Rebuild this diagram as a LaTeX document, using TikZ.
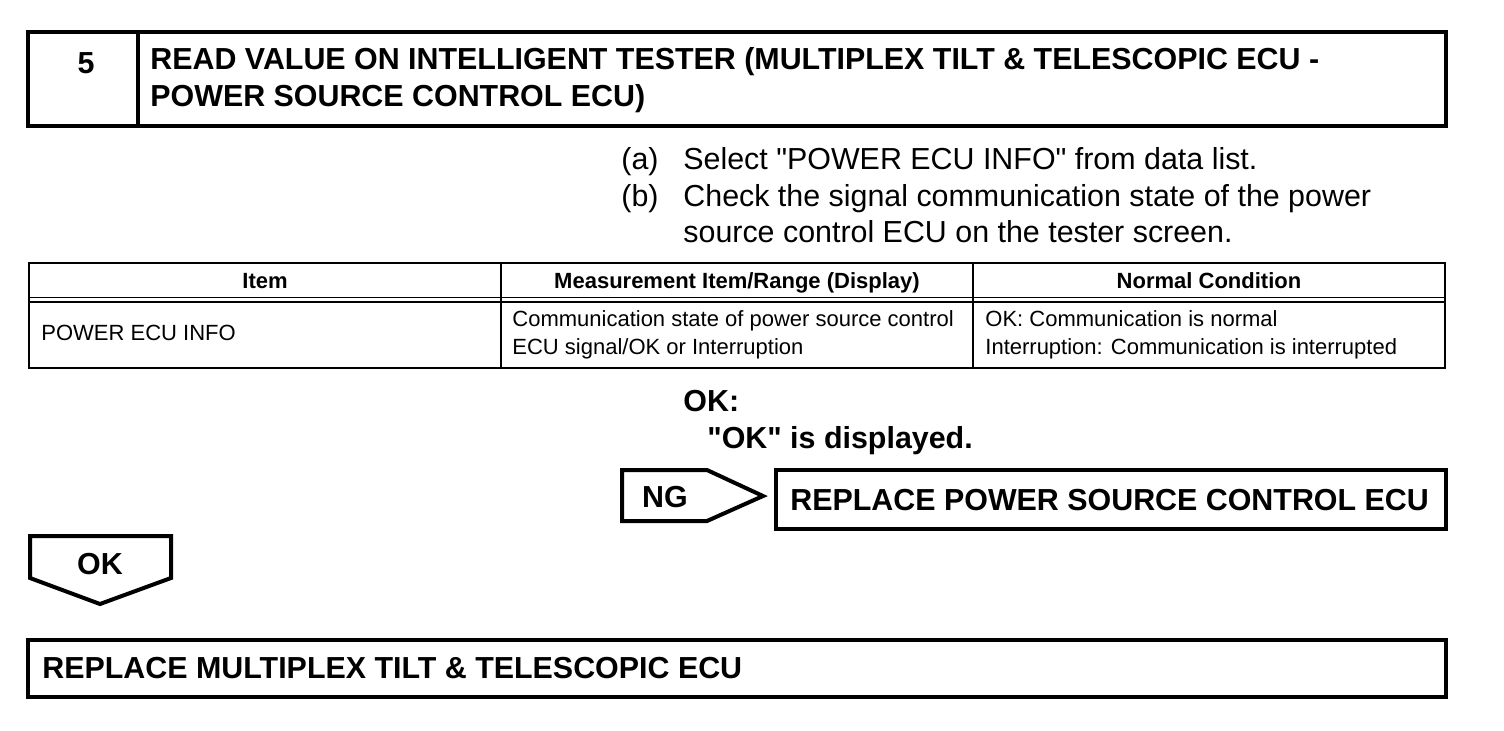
\documentclass[tikz,border=0pt]{standalone}
\usepackage{fontspec}
\setmainfont{Liberation Sans}[Ligatures=TeXOff]
\begin{document}
\begin{tikzpicture}[x=0.5pt,y=-0.5pt,
  heavy/.style={line width=2pt},
  rule/.style={line width=1pt},
  bigr/.style={font=\fontsize{15.2}{18}\selectfont,inner sep=0pt,anchor=base west},
  bigb/.style={font=\fontsize{15.2}{18}\selectfont\bfseries,inner sep=0pt,anchor=base west},
  smr/.style={font=\fontsize{11}{13}\selectfont,inner sep=0pt,anchor=base west},
  smb/.style={font=\fontsize{11}{13}\selectfont\bfseries,inner sep=0pt,anchor=base}]
\useasboundingbox (0,0) rectangle (1504,730);
% title box
\draw[heavy] (28,32) rectangle (1446,126);
\draw[heavy] (138,32) -- (138,126);
\node[bigb,anchor=base] (num) at (86,73) {5};
\node[bigb] (t1) at (150,69) {READ VALUE ON INTELLIGENT TESTER (MULTIPLEX TILT \& TELESCOPIC ECU -};
\node[bigb] (t2) at (150,106) {POWER SOURCE CONTROL ECU)};
% instructions
\node[bigr] (la) at (621,169) {(a)};
\node[bigr] (sa) at (683,169) {Select "POWER ECU INFO" from data list.};
\node[bigr] (lb) at (621,206) {(b)};
\node[bigr] (sb1) at (683,206) {Check the signal communication state of the power};
\node[bigr] (sb2) at (683,242) {source control ECU on the tester screen.};
% table
\draw[rule] (29,263) rectangle (1445,368);
\draw[line width=0.8pt] (29,297.5) -- (1445,297.5);
\draw[line width=0.8pt] (29,302) -- (1445,302);
\draw[rule] (501,263) -- (501,368);
\draw[rule] (973,263) -- (973,368);
\node[smb] (h1) at (265,288) {Item};
\node[smb] (h2) at (737,288) {Measurement Item/Range (Display)};
\node[smb] (h3) at (1209,288) {Normal Condition};
\node[smr] (c1) at (41,340) {POWER ECU INFO};
\node[smr] (c2a) at (512,326) {Communication state of power source control};
\node[smr] (c2b) at (512,354) {ECU signal/OK or Interruption};
\node[smr] (c3a) at (985,326) {OK: Communication is normal};
\node[smr] (c3b) at (985,354) {Interruption: Communication is interrupted};
% OK condition
\node[bigb] (okc) at (683,411) {OK:};
\node[bigb] (okd) at (707,448) {"OK" is displayed.};
% NG arrow
\draw[heavy,line join=miter] (622,470) -- (707,470) -- (763,496) -- (707,521) -- (622,521) -- cycle;
\node[bigb,anchor=base] (ng) at (665,507) {NG};
\draw[heavy] (776,470) rectangle (1446,529);
\node[bigb] (rp) at (790,510) {REPLACE POWER SOURCE CONTROL ECU};
% OK arrow
\draw[heavy,line join=miter] (30,536) -- (171,536) -- (171,578) -- (100,604) -- (30,578) -- cycle;
\node[bigb,anchor=base] (ok) at (100,574) {OK};
\draw[heavy] (28,640) rectangle (1446,697);
\node[bigb] (rm) at (42,678) {REPLACE MULTIPLEX TILT \& TELESCOPIC ECU};
\end{tikzpicture}
\end{document}
